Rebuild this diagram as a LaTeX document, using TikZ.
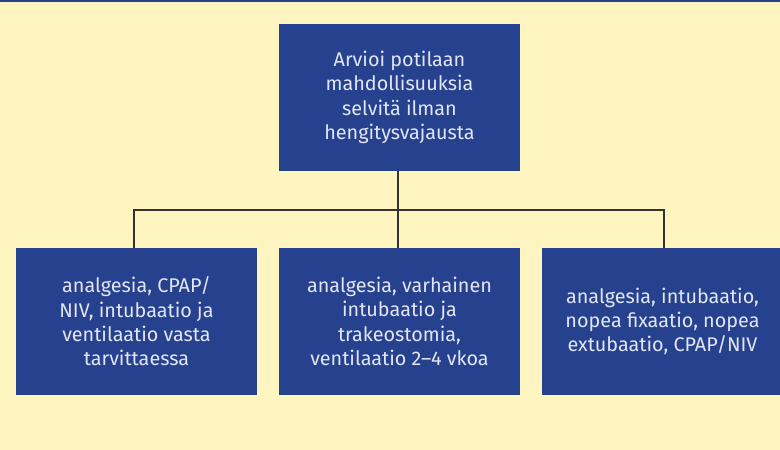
\documentclass[tikz,border=0pt]{standalone}
\usepackage{fontspec}
\setmainfont{Fira Sans}
\definecolor{bg}{HTML}{FFF5C0}
\definecolor{boxblue}{HTML}{26418E}
\definecolor{txt}{HTML}{E2E5F4}
\begin{document}
\begin{tikzpicture}[x=1pt,y=-1pt,
  box/.style={fill=boxblue, draw=none, text=txt, align=center, inner sep=0pt,
    font=\fontsize{19.8}{24.3}\selectfont},
  link/.style={draw=black!80, line width=1.2pt}]
\useasboundingbox (0,0) rectangle (780,450);
\fill[bg] (0,0) rectangle (780,450);
\fill[boxblue] (0,0) rectangle (780,2.2);
\node[box, minimum width=241pt, minimum height=147pt] (top) at (399.5,97.5)
  {Arvioi potilaan\\mahdollisuuksia\\selvitä ilman\\hengitysvajausta};
\node[box, minimum width=241pt, minimum height=147pt] (a) at (136.5,321.5)
  {analgesia, CPAP/\\NIV, intubaatio ja\\ventilaatio vasta\\tarvittaessa};
\node[box, minimum width=241pt, minimum height=147pt] (b) at (399.5,321.5)
  {analgesia, varhainen\\intubaatio ja\\trakeostomia,\\ventilaatio 2–4 vkoa};
\node[box, minimum width=241pt, minimum height=147pt] (c) at (662.5,321.5)
  {analgesia, intubaatio,\\nopea fixaatio, nopea\\extubaatio, CPAP/NIV};
\coordinate (j) at (398,210);
\draw[link] (top.south -| j) -- (j);
\draw[link] (a.north -| 134,0) |- (j) -| (c.north -| 664,0);
\draw[link] (j) -- (b.north -| j);
\end{tikzpicture}
\end{document}
